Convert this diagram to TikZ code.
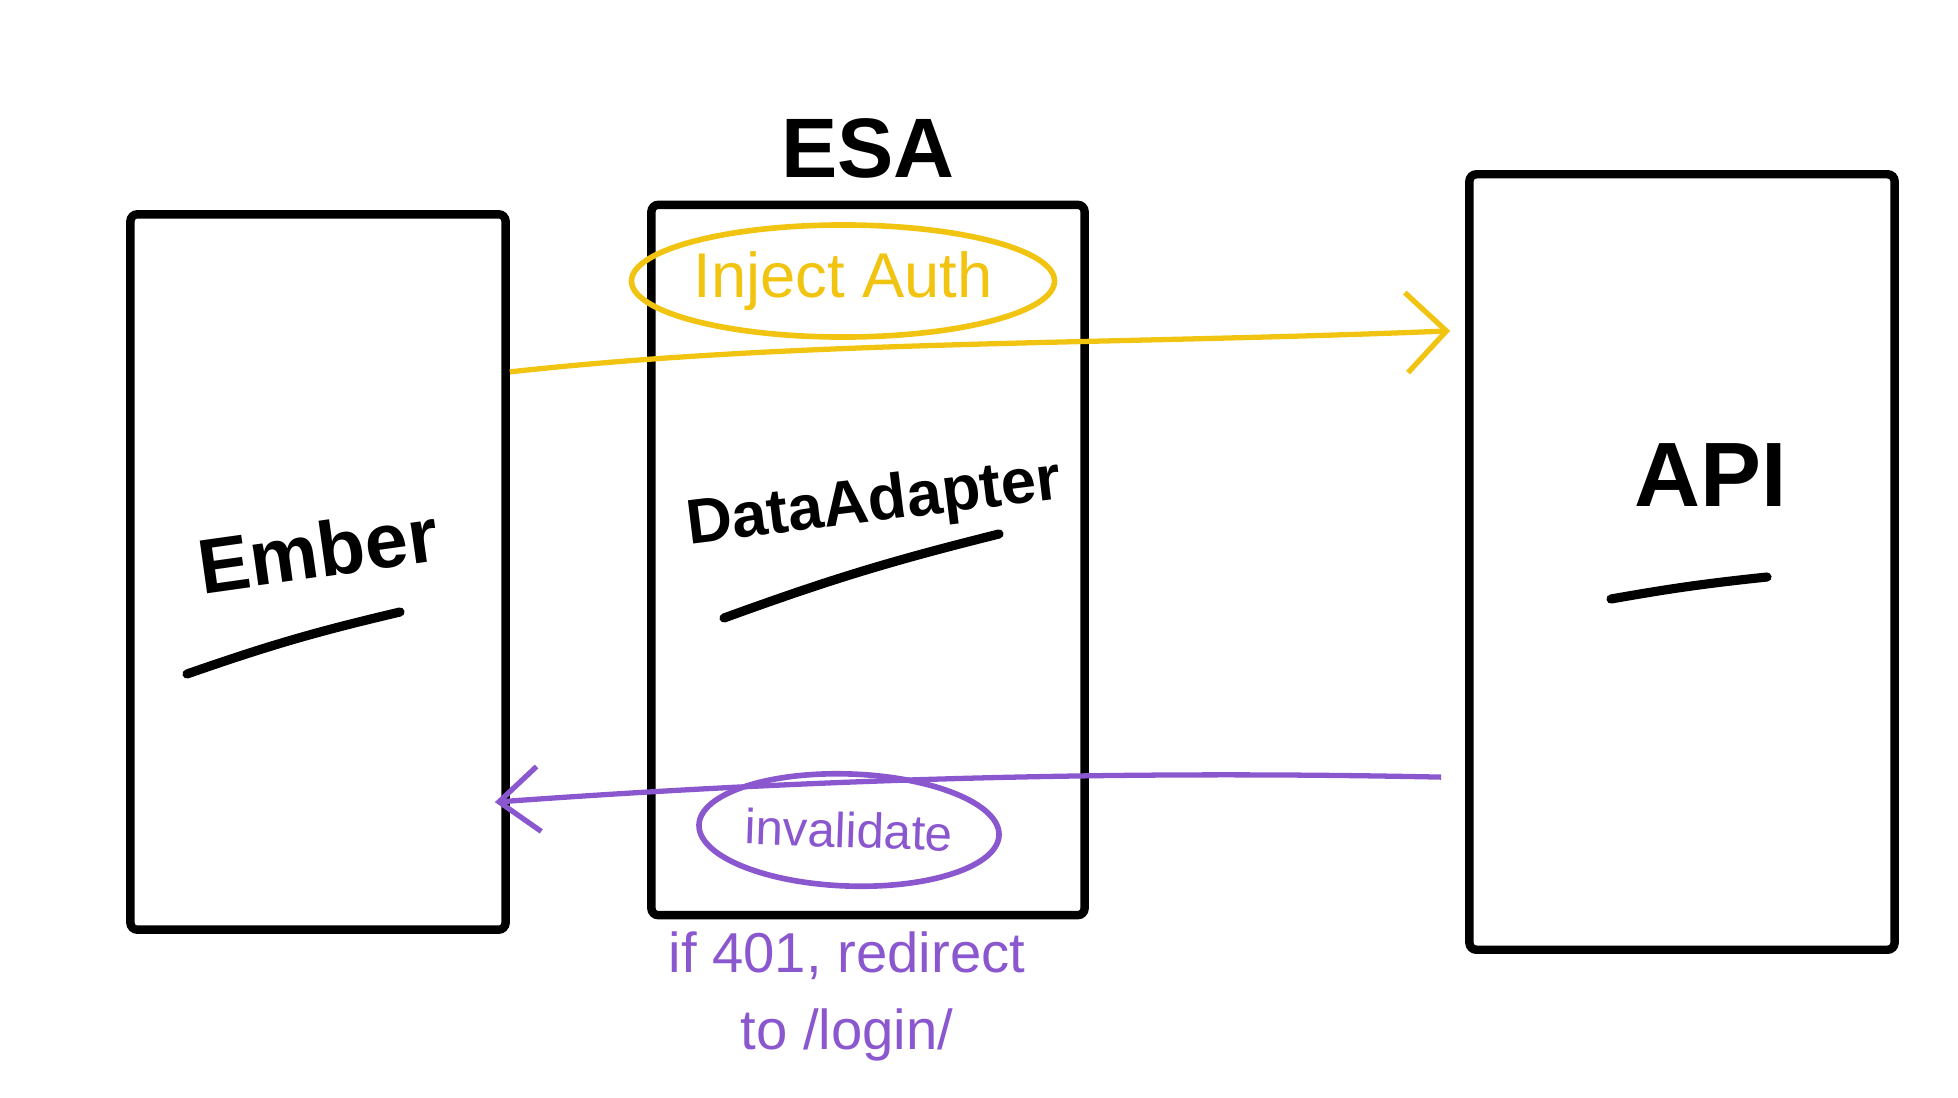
\documentclass[tikz,border=0pt]{standalone}
\usepackage{fontspec}
\setmainfont{Liberation Sans}
\usetikzlibrary{shapes.geometric, arrows.meta, positioning}
\definecolor{authyellow}{RGB}{242,196,18}
\definecolor{redirpurple}{RGB}{138,87,207}
\tikzstyle{layer} = [
    rectangle,
    draw=black,
    line width=2.4pt,
    rounded corners=2pt
]
\tikzstyle{boxtext} = [
    font=\bfseries\fontsize{22}{26}\selectfont,
    text=black
]
\tikzstyle{underline} = [
    line width=2.6pt,
    line cap=round
]
\tikzstyle{authnote} = [
    ellipse,
    draw=authyellow,
    line width=1.6pt,
    text=authyellow,
    inner sep=0pt,
    font=\fontsize{18}{22}\selectfont
]
\tikzstyle{redirnote} = [
    ellipse,
    draw=redirpurple,
    line width=1.6pt,
    text=redirpurple,
    inner sep=0pt,
    font=\fontsize{14}{17}\selectfont
]
\tikzstyle{authline} = [
    draw=authyellow,
    line width=1.5pt,
    -{Straight Barb[length=0.4cm, width=0.8cm, line width=1.5pt]}
]
\tikzstyle{redirline} = [
    draw=redirpurple,
    line width=1.5pt,
    -{Straight Barb[length=0.4cm, width=0.65cm, line width=1.5pt]}
]

\begin{document}
\begin{tikzpicture}[x=0.01cm, y=-0.01cm]
        \useasboundingbox (0,0) rectangle (1958,1097);

        % the three layers
        \node (ember) [layer, minimum width=3.75cm, minimum height=7.15cm] at (318,572) {};
        \node (esa) [layer, minimum width=4.33cm, minimum height=7.10cm] at (868,560) {};
        \node (api) [layer, minimum width=4.25cm, minimum height=7.75cm] at (1682,562) {};

        \node (esatitle) [boxtext, font=\bfseries\fontsize{24}{28}\selectfont, above=0.1cm of esa] {ESA};
        \node (embertext) [boxtext, rotate=8, inner sep=1pt] at (318,550) {Ember};
        \node (adaptertext) [boxtext, rotate=7, inner sep=1pt, font=\bfseries\fontsize{18}{22}\selectfont] at (874,505) {DataAdapter};
        \node (apitext) [boxtext, font=\bfseries\fontsize{26}{30}\selectfont] at (1711,475) {API};

        \draw[underline] (187,674) to[bend left=3] (400,612);
        \draw[underline] (724,618) to[bend left=3] (999,534);
        \draw[underline] (1611,599) to[bend left=2] (1767,577);

        % request path
        \node (inject) [authnote, minimum width=4.06cm, minimum height=1.12cm] at (843,281) {Inject Auth};
        \draw[authline] ([yshift=2cm]ember.east) .. controls (800,340) and (1100,345) .. ([xshift=-0.15cm, yshift=2.31cm]api.west);

        % response path
        \node (invalidate) [redirnote, minimum width=3.0cm, minimum height=1.12cm, rotate=-2] at (849,830) {invalidate};
        \draw[redirline] ([xshift=-0.24cm, yshift=-2.15cm]api.west) .. controls (1100,770) and (800,780) .. ([xshift=-0.15cm, yshift=-2.3cm]ember.east);

        \node (redirect) [text=redirpurple, align=center, font=\fontsize{16}{22}\selectfont, below=0.3cm of invalidate] {if 401, redirect\\to /login/};
    \end{tikzpicture}
\end{document}
